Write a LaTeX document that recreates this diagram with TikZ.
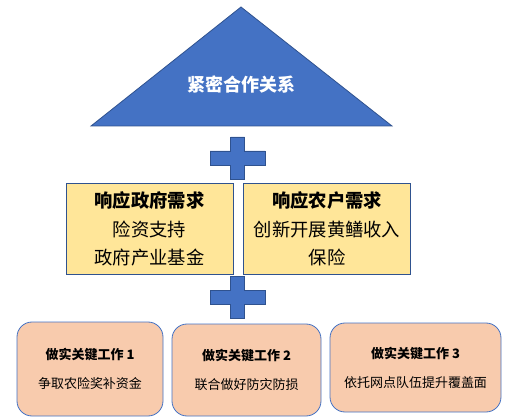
\documentclass[tikz,border=0pt]{standalone}
\usepackage{fontspec}
\setmainfont{Noto Sans CJK SC}
\usetikzlibrary{positioning}
\definecolor{officeblue}{HTML}{4472C4}
\definecolor{darkblue}{HTML}{2F528F}
\definecolor{needfill}{HTML}{FFE699}
\definecolor{taskfill}{HTML}{F8CBAD}
\tikzset{
tri/.style={
    fill=officeblue,
    draw=darkblue,
    line width=0.8pt
},
plus/.style={
    fill=officeblue,
    draw=darkblue,
    line width=0.8pt
},
need/.style={
    rectangle,
    draw=darkblue,
    fill=needfill,
    line width=0.8pt,
    minimum width=167pt,
    minimum height=91pt,
    align=center,
    font=\fontsize{18.3}{28.5}\selectfont
},
task/.style={
    rectangle,
    rounded corners=15pt,
    draw=officeblue,
    fill=taskfill,
    line width=0.8pt,
    align=center,
    font=\fontsize{13}{29}\selectfont
}}

\begin{document}
\begin{tikzpicture}[x=1pt, y=-1pt]
\useasboundingbox (0,0) rectangle (507,420);

% top
\draw[tri] (241,7) -- (392,126) -- (91,126) -- cycle;
\node[text=white, font=\fontsize{18}{20}\selectfont\bfseries] (tie) at (241,85) {紧密合作关系};

% plus signs
\foreach \y in {158,297}
    \draw[plus, shift={(237.5,\y)}] (-7,-21) -- (7,-21) -- (7,-7) -- (27.5,-7) -- (27.5,7) -- (7,7)
        -- (7,21) -- (-7,21) -- (-7,7) -- (-27.5,7) -- (-27.5,-7) -- (-7,-7) -- cycle;

% needs
\node[need]    (gov)    at (149.5,229)    {\textbf{响应政府需求}\\险资支持\\政府产业基金};
\node[need]    (farm)    at (327,229)    {\textbf{响应农户需求}\\创新开展黄鳝收入\\保险};

% tasks
\node[task, minimum width=146pt, minimum height=94pt]    (work1)    at (90,369)    {\textbf{做实关键工作 1}\\争取农险奖补资金};
\node[task, minimum width=149pt, minimum height=92pt]    (work2)    at (246.5,370)    {\textbf{做实关键工作 2}\\联合做好防灾防损};
\node[task, minimum width=171pt, minimum height=89pt]    (work3)    at (415.5,367.5)    {\textbf{做实关键工作 3}\\依托网点队伍提升覆盖面};
\end{tikzpicture}
\end{document}
